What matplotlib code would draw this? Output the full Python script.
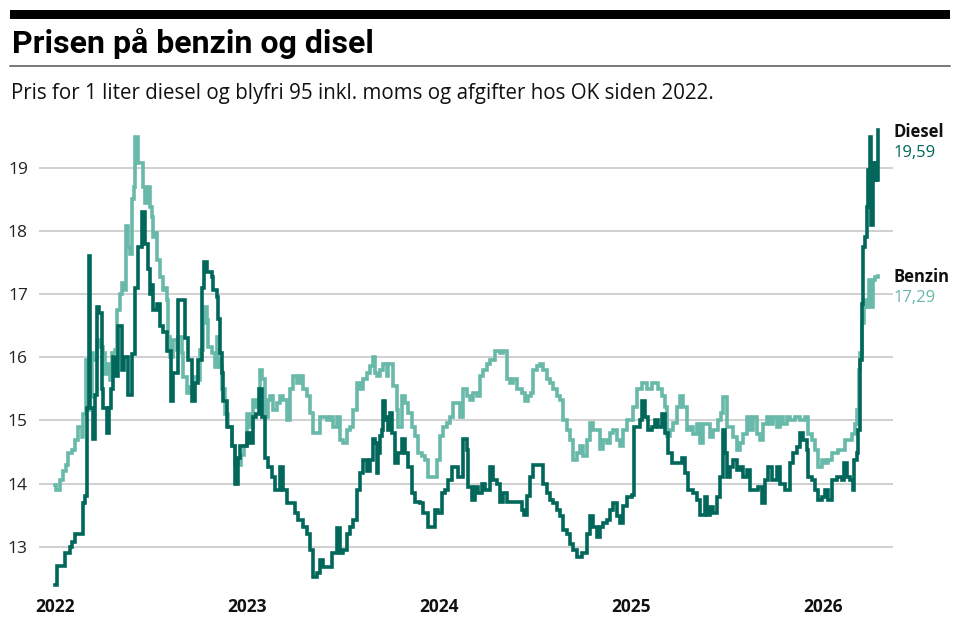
import matplotlib
matplotlib.use("Agg")
import matplotlib.pyplot as plt
from matplotlib.lines import Line2D
from matplotlib.patches import Rectangle

# tid som decimalår, pris i kr. pr. liter
diesel_t = [
    2022.000, 2022.010, 2022.042, 2022.052, 2022.078, 2022.089, 2022.104, 2022.141,
    2022.146, 2022.156, 2022.167, 2022.177, 2022.182, 2022.198, 2022.208, 2022.219,
    2022.229, 2022.245, 2022.250, 2022.271, 2022.281, 2022.292, 2022.302, 2022.313,
    2022.328, 2022.349, 2022.359, 2022.380, 2022.401, 2022.417, 2022.432, 2022.453,
    2022.469, 2022.484, 2022.495, 2022.505, 2022.510, 2022.531, 2022.547, 2022.563,
    2022.583, 2022.604, 2022.615, 2022.641, 2022.661, 2022.677, 2022.693, 2022.714,
    2022.729, 2022.745, 2022.766, 2022.776, 2022.792, 2022.818, 2022.823, 2022.844,
    2022.849, 2022.859, 2022.870, 2022.875, 2022.896, 2022.911, 2022.922, 2022.938,
    2022.948, 2022.953, 2022.964, 2022.984,
    2023.000, 2023.016, 2023.031, 2023.047, 2023.063, 2023.078, 2023.094, 2023.109,
    2023.130, 2023.146, 2023.172, 2023.188, 2023.208, 2023.234, 2023.250, 2023.266,
    2023.292, 2023.313, 2023.328, 2023.344, 2023.365, 2023.380, 2023.396, 2023.422,
    2023.443, 2023.469, 2023.484, 2023.500, 2023.521, 2023.536, 2023.552, 2023.573,
    2023.589, 2023.604, 2023.625, 2023.641, 2023.656, 2023.667, 2023.677, 2023.682,
    2023.693, 2023.703, 2023.708, 2023.719, 2023.729, 2023.734, 2023.745, 2023.755,
    2023.771, 2023.786, 2023.807, 2023.823, 2023.839, 2023.859, 2023.875, 2023.901,
    2023.917, 2023.943, 2023.964, 2023.979, 2023.995,
    2024.016, 2024.031, 2024.047, 2024.068, 2024.083, 2024.099, 2024.125, 2024.146,
    2024.151, 2024.172, 2024.188, 2024.203, 2024.224, 2024.240, 2024.255, 2024.266,
    2024.281, 2024.302, 2024.318, 2024.333, 2024.354, 2024.385, 2024.411, 2024.432,
    2024.443, 2024.458, 2024.474, 2024.490, 2024.531, 2024.542, 2024.563, 2024.578,
    2024.594, 2024.615, 2024.630, 2024.646, 2024.667, 2024.682, 2024.698, 2024.719,
    2024.745, 2024.760, 2024.771, 2024.786, 2024.802, 2024.823, 2024.839, 2024.854,
    2024.875, 2024.891, 2024.906, 2024.927, 2024.943, 2024.958, 2024.979,
    2025.005, 2025.016, 2025.031, 2025.047, 2025.057, 2025.073, 2025.089, 2025.109,
    2025.125, 2025.141, 2025.161, 2025.177, 2025.193, 2025.214, 2025.245, 2025.266,
    2025.281, 2025.297, 2025.323, 2025.344, 2025.359, 2025.385, 2025.396, 2025.411,
    2025.427, 2025.448, 2025.464, 2025.479, 2025.490, 2025.500, 2025.516, 2025.531,
    2025.552, 2025.568, 2025.583, 2025.604, 2025.620, 2025.646, 2025.661, 2025.682,
    2025.698, 2025.714, 2025.734, 2025.760, 2025.776, 2025.802, 2025.828, 2025.844,
    2025.865, 2025.880, 2025.896, 2025.917, 2025.922, 2025.943, 2025.958, 2025.974,
    2025.995,
    2026.010, 2026.026, 2026.047, 2026.073, 2026.099, 2026.109, 2026.125, 2026.141,
    2026.156, 2026.161, 2026.177, 2026.182, 2026.193, 2026.203, 2026.208, 2026.219,
    2026.229, 2026.234, 2026.245, 2026.250, 2026.260, 2026.266, 2026.276, 2026.281,
    2026.286,
]
diesel_v = [
    12.40, 12.70, 12.70, 12.90, 13.00, 13.08, 13.20, 13.20,
    13.70, 13.80, 15.20, 17.60, 15.20, 14.70, 15.40, 16.80,
    16.70, 15.50, 15.20, 14.80, 15.20, 15.50, 16.00, 15.70,
    16.50, 15.80, 16.00, 15.40, 16.05, 17.10, 17.75, 18.30,
    17.80, 17.40, 17.00, 17.15, 16.75, 16.85, 16.50, 16.40,
    16.10, 15.30, 15.75, 16.90, 16.90, 16.30, 15.95, 15.30,
    15.60, 15.95, 17.10, 17.50, 17.35, 17.27, 17.06, 16.95,
    16.60, 16.07, 15.75, 15.30, 14.90, 14.90, 14.60, 14.00,
    14.00, 14.40, 14.60, 14.60,
    14.80, 14.65, 15.06, 15.10, 15.50, 15.06, 14.40, 14.27,
    14.10, 13.90, 14.27, 13.90, 13.69, 13.69, 13.53, 13.42,
    13.32, 13.20, 12.95, 12.52, 12.58, 12.79, 12.68, 12.68,
    12.90, 13.29, 12.90, 12.95, 13.20, 13.32, 13.42, 13.90,
    14.16, 14.38, 14.20, 14.38, 14.70, 14.64, 14.16, 14.48,
    14.75, 14.85, 15.30, 15.00, 15.06, 14.85, 15.12, 14.80,
    14.32, 14.48, 14.70, 14.48, 14.27, 13.85, 13.71, 13.69,
    13.53, 13.32, 13.32, 13.58, 13.53,
    13.85, 13.90, 14.06, 14.27, 14.27, 14.10, 14.70, 14.53,
    13.95, 13.74, 13.95, 13.85, 14.00, 13.90, 13.90, 14.27,
    14.06, 14.00, 13.71, 13.85, 13.71, 13.71, 13.71, 13.58,
    13.50, 13.80, 14.10, 14.30, 14.30, 14.00, 13.85, 13.74,
    13.69, 13.58, 13.48, 13.26, 13.21, 13.05, 12.95, 12.84,
    12.90, 12.90, 13.21, 13.48, 13.32, 13.16, 13.32, 13.37,
    13.42, 13.58, 13.69, 13.48, 13.37, 13.64, 13.79,
    13.82, 14.90, 14.90, 15.00, 15.30, 15.06, 14.85, 14.90,
    15.00, 14.90, 15.10, 14.80, 14.48, 14.32, 14.32, 14.40,
    14.16, 13.90, 13.85, 13.74, 13.50, 13.79, 13.50, 13.63,
    13.53, 13.79, 14.10, 14.85, 14.48, 14.10, 14.27, 14.37,
    14.21, 14.27, 14.10, 14.21, 13.90, 13.90, 13.95, 13.69,
    14.06, 14.27, 14.06, 14.27, 14.00, 13.90, 14.32, 14.48,
    14.58, 14.80, 14.69, 14.53, 14.10, 14.06, 13.90, 13.74,
    13.79,
    13.90, 13.74, 14.06, 14.10, 14.06, 14.32, 14.10, 14.06,
    13.90, 14.37, 14.48, 14.85, 15.95, 16.85, 17.75, 17.90,
    18.38, 18.96, 19.49, 18.10, 19.07, 18.80, 19.07, 18.80,
    19.59,
]

benzin_t = [
    2022.000, 2022.005, 2022.026, 2022.042, 2022.057, 2022.068, 2022.089, 2022.104,
    2022.120, 2022.141, 2022.146, 2022.161, 2022.167, 2022.177, 2022.193, 2022.198,
    2022.219, 2022.234, 2022.250, 2022.260, 2022.276, 2022.286, 2022.297, 2022.313,
    2022.323, 2022.339, 2022.349, 2022.359, 2022.370, 2022.380, 2022.391, 2022.401,
    2022.411, 2022.417, 2022.427, 2022.432, 2022.448, 2022.458, 2022.469, 2022.479,
    2022.484, 2022.495, 2022.505, 2022.510, 2022.526, 2022.531, 2022.547, 2022.563,
    2022.573, 2022.583, 2022.589, 2022.599, 2022.615, 2022.635, 2022.641, 2022.661,
    2022.667, 2022.688, 2022.703, 2022.719, 2022.740, 2022.755, 2022.771, 2022.781,
    2022.792, 2022.797, 2022.818, 2022.833, 2022.844, 2022.849, 2022.859, 2022.870,
    2022.885, 2022.901, 2022.922, 2022.938, 2022.953, 2022.969, 2022.984,
    2023.000, 2023.016, 2023.031, 2023.047, 2023.068, 2023.078, 2023.094, 2023.109,
    2023.120, 2023.135, 2023.156, 2023.172, 2023.188, 2023.208, 2023.224, 2023.240,
    2023.260, 2023.276, 2023.292, 2023.313, 2023.328, 2023.344, 2023.365, 2023.380,
    2023.396, 2023.417, 2023.432, 2023.448, 2023.469, 2023.484, 2023.500, 2023.521,
    2023.536, 2023.552, 2023.573, 2023.589, 2023.604, 2023.625, 2023.641, 2023.656,
    2023.667, 2023.677, 2023.693, 2023.708, 2023.729, 2023.734, 2023.755, 2023.760,
    2023.781, 2023.786, 2023.807, 2023.823, 2023.839, 2023.859, 2023.875, 2023.891,
    2023.911, 2023.927, 2023.943, 2023.969, 2023.990,
    2024.005, 2024.021, 2024.042, 2024.057, 2024.073, 2024.094, 2024.109, 2024.125,
    2024.146, 2024.161, 2024.177, 2024.198, 2024.214, 2024.229, 2024.250, 2024.266,
    2024.292, 2024.318, 2024.333, 2024.354, 2024.370, 2024.385, 2024.406, 2024.432,
    2024.448, 2024.464, 2024.479, 2024.490, 2024.510, 2024.526, 2024.542, 2024.563,
    2024.578, 2024.594, 2024.615, 2024.630, 2024.646, 2024.667, 2024.682, 2024.698,
    2024.719, 2024.734, 2024.750, 2024.771, 2024.786, 2024.802, 2024.823, 2024.839,
    2024.854, 2024.875, 2024.891, 2024.906, 2024.927, 2024.943, 2024.958, 2024.979,
    2024.995,
    2025.010, 2025.031, 2025.057, 2025.083, 2025.109, 2025.125, 2025.141, 2025.161,
    2025.177, 2025.188, 2025.203, 2025.219, 2025.240, 2025.255, 2025.271, 2025.292,
    2025.307, 2025.323, 2025.344, 2025.359, 2025.375, 2025.396, 2025.411, 2025.427,
    2025.453, 2025.469, 2025.479, 2025.490, 2025.500, 2025.516, 2025.531, 2025.552,
    2025.568, 2025.583, 2025.604, 2025.620, 2025.635, 2025.656, 2025.672, 2025.688,
    2025.708, 2025.724, 2025.740, 2025.760, 2025.776, 2025.792, 2025.813, 2025.828,
    2025.854, 2025.880, 2025.906, 2025.922, 2025.943, 2025.958, 2025.974, 2025.995,
    2026.010, 2026.026, 2026.047, 2026.063, 2026.078, 2026.099, 2026.115, 2026.130,
    2026.151, 2026.167, 2026.177, 2026.188, 2026.193, 2026.203, 2026.214, 2026.224,
    2026.229, 2026.240, 2026.245, 2026.255, 2026.260, 2026.271, 2026.286,
]
benzin_v = [
    13.98, 13.90, 14.05, 14.20, 14.30, 14.48, 14.53, 14.69,
    14.90, 14.74, 15.10, 15.95, 15.16, 15.37, 16.06, 15.95,
    16.27, 16.17, 16.06, 15.74, 15.90, 15.64, 16.06, 16.11,
    16.75, 17.00, 17.17, 17.06, 18.07, 17.75, 17.64, 18.50,
    18.70, 19.49, 19.49, 19.07, 19.07, 18.70, 18.44, 18.65,
    18.70, 18.38, 18.22, 17.90, 17.96, 17.54, 17.27, 17.06,
    17.10, 16.90, 16.32, 16.00, 16.27, 16.11, 16.32, 16.06,
    15.69, 15.43, 15.53, 15.69, 15.64, 16.11, 16.54, 16.80,
    16.59, 16.17, 16.06, 15.85, 16.32, 15.95, 15.85, 15.50,
    15.10, 14.90, 14.60, 14.30, 14.30, 14.45, 14.60,
    15.10, 14.90, 15.33, 15.22, 15.80, 15.65, 15.06, 15.33,
    15.38, 15.17, 15.27, 15.38, 15.33, 15.00, 15.49, 15.70,
    15.60, 15.70, 15.49, 15.38, 15.12, 14.80, 14.80, 15.06,
    15.06, 15.00, 15.06, 14.90, 15.06, 14.69, 14.64, 14.85,
    14.90, 15.17, 15.60, 15.49, 15.65, 15.75, 15.86, 16.00,
    15.75, 15.70, 15.80, 15.90, 15.70, 15.90, 15.90, 15.54,
    15.17, 14.90, 15.38, 15.27, 15.12, 14.90, 14.75, 14.48,
    14.43, 14.38, 14.10, 14.10, 14.38,
    14.75, 14.90, 14.96, 15.06, 15.27, 15.27, 15.06, 15.49,
    15.38, 15.33, 15.43, 15.38, 15.70, 15.80, 15.90, 15.96,
    16.10, 16.07, 16.10, 15.65, 15.60, 15.65, 15.49, 15.43,
    15.30, 15.38, 15.43, 15.80, 15.86, 15.90, 15.80, 15.65,
    15.60, 15.49, 15.38, 15.33, 15.01, 14.85, 14.69, 14.38,
    14.48, 14.59, 14.43, 14.69, 14.96, 14.85, 14.85, 14.54,
    14.69, 14.64, 14.80, 14.85, 14.69, 14.59, 14.85, 15.01,
    15.01,
    15.22, 15.49, 15.60, 15.49, 15.60, 15.60, 15.49, 15.38,
    15.22, 14.75, 14.85, 14.96, 15.22, 15.38, 15.22, 14.85,
    14.90, 14.79, 14.95, 14.64, 14.95, 14.95, 14.74, 14.85,
    15.00, 15.11, 15.37, 15.37, 14.90, 14.90, 14.74, 14.53,
    14.64, 14.79, 15.06, 14.85, 15.06, 14.79, 14.69, 14.95,
    15.06, 14.95, 15.06, 14.90, 15.06, 14.95, 15.06, 15.00,
    15.06, 15.00, 15.06, 14.79, 14.69, 14.53, 14.27, 14.37,
    14.32, 14.37, 14.48, 14.48, 14.53, 14.53, 14.69, 14.69,
    14.79, 14.95, 15.16, 15.80, 16.06, 16.54, 16.80, 16.90,
    16.80, 17.22, 17.17, 16.80, 17.22, 17.27, 17.29,
]

years = [2022, 2023, 2024, 2025, 2026]
y_ticks = [13, 14, 15, 16, 17, 18, 19]

diesel_color = '#00675a'
benzin_color = '#68b9a9'

plt.rcParams['font.family'] = ['Open Sans', 'DejaVu Sans']

W, H = 960, 626
fig = plt.figure(figsize=(W / 100, H / 100), dpi=100)
ax = fig.add_axes([39 / W, 1 - 591 / H, (893 - 39) / W, (591 - 123.5) / H])

ax.plot(benzin_t, benzin_v, color=benzin_color, lw=2.6, drawstyle='steps-post',
        solid_joinstyle='miter', zorder=3)
ax.plot(diesel_t, diesel_v, color=diesel_color, lw=2.6, drawstyle='steps-post',
        solid_joinstyle='miter', zorder=4)

ax.set_xlim(2022 - 16 / 192, 2022 + (893 - 55) / 192)
ax.set_ylim(12.3, 19.7)
ax.set_yticks(y_ticks)
ax.set_yticklabels([str(v) for v in y_ticks])
ax.set_xticks(years)
ax.set_xticklabels([str(y) for y in years], fontweight='bold')
ax.grid(axis='y', color='#c4c4c4', lw=1.1)
ax.set_axisbelow(True)
for s in ax.spines.values():
    s.set_visible(False)
ax.tick_params(axis='y', length=0, pad=8, labelsize=12.5, labelcolor='#222222')
ax.tick_params(axis='x', length=0, pad=5, labelsize=12.5, labelcolor='#111111')

# navne og slutværdier til højre
for name, vals, col in [('Diesel', diesel_v, diesel_color), ('Benzin', benzin_v, benzin_color)]:
    last = vals[-1]
    ax.annotate(name, xy=(1, last), xycoords=('axes fraction', 'data'),
                xytext=(0.5, -1), textcoords='offset points', ha='left', va='center',
                fontsize=12, fontweight='bold', color='#111111', annotation_clip=False)
    ax.annotate(f'{last:.2f}'.replace('.', ','), xy=(1, last),
                xycoords=('axes fraction', 'data'), xytext=(0.5, -16),
                textcoords='offset points', ha='left', va='center',
                fontsize=12, color=col, annotation_clip=False)

# overskrift
fig.add_artist(Rectangle((10 / W, 1 - 19 / H), 940 / W, 9 / H, transform=fig.transFigure,
                         color='black', lw=0))
fig.add_artist(Line2D([10 / W, 950 / W], [1 - 65.5 / H] * 2, transform=fig.transFigure,
                      color='#555555', lw=1.1))
fig.text(12 / W, 1 - 53 / H, 'Prisen på benzin og disel', fontsize=23, fontweight='bold',
         family=['Liberation Sans Narrow', 'Roboto', 'DejaVu Sans'], va='baseline', ha='left')
fig.text(11 / W, 1 - 99 / H,
         'Pris for 1 liter diesel og blyfri 95 inkl. moms og afgifter hos OK siden 2022.',
         fontsize=14.8, va='baseline', ha='left', color='#111111')

fig.savefig('out.png', dpi=100)
